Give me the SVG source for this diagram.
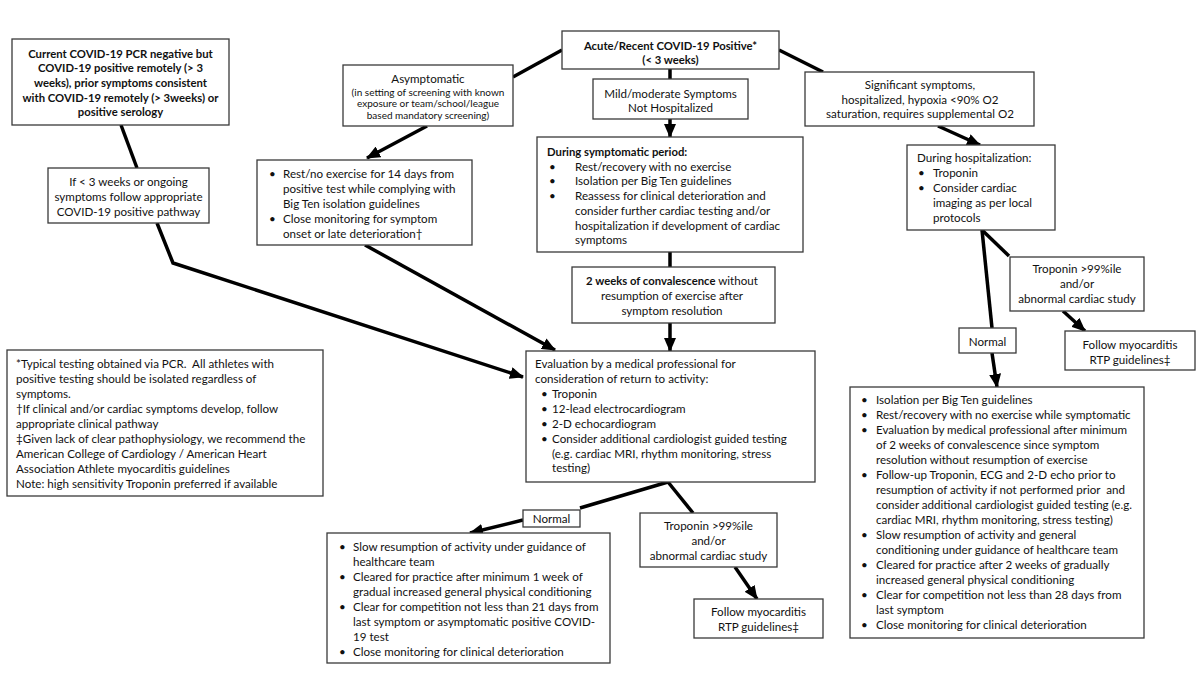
<svg xmlns="http://www.w3.org/2000/svg" width="1200" height="675" viewBox="0 0 1200 675">
<style>
.box{fill:#fff;stroke:#3a3a3a;stroke-width:1.3}
text{font-family:Lato,"Open Sans","Liberation Sans",sans-serif;font-size:11.6px;fill:#111}
.b{font-weight:bold;font-size:11.3px}
.c{text-anchor:middle}
.s{font-size:10px}
.ln{fill:none;stroke:#000;stroke-width:3.5}
.ar{marker-end:url(#ah)}
</style>
<defs>
<marker id="ah" markerUnits="userSpaceOnUse" markerWidth="14" markerHeight="12" viewBox="0 0 14 12" refX="13" refY="6" orient="auto">
<path d="M0,0 L14,6 L0,12 z" fill="#000"/>
</marker>
</defs>
<rect width="1200" height="675" fill="#fff"/>
<g id="connectors">
<line class="ln" x1="121" y1="125" x2="137" y2="168"/>
<polyline class="ln ar" points="157,223 173,263 523,377"/>
<line class="ln" x1="513" y1="77" x2="562" y2="50"/>
<line class="ln ar" x1="427" y1="126" x2="367" y2="158"/>
<line class="ln ar" x1="365" y1="245" x2="555" y2="350"/>
<line class="ln" x1="670" y1="69" x2="670" y2="79"/>
<line class="ln ar" x1="670" y1="119" x2="670" y2="137"/>
<line class="ln" x1="670" y1="252" x2="670" y2="267"/>
<line class="ln ar" x1="670" y1="323" x2="670" y2="351"/>
<line class="ln" x1="779" y1="50" x2="823" y2="72"/>
<line class="ln ar" x1="938" y1="126" x2="980" y2="145"/>
<line class="ln" x1="982" y1="230" x2="1009" y2="256"/>
<line class="ln" x1="982" y1="230" x2="992" y2="328"/>
<line class="ln ar" x1="1063" y1="311" x2="1085" y2="331"/>
<line class="ln ar" x1="992" y1="353" x2="997" y2="387"/>
<line class="ln" x1="668" y1="482" x2="580" y2="508"/>
<line class="ln ar" x1="523" y1="520" x2="470" y2="533"/>
<line class="ln" x1="668" y1="482" x2="693" y2="513"/>
<line class="ln ar" x1="735" y1="567" x2="757" y2="599"/>
</g>
<g id="remote">
<rect class="box" x="12" y="39" width="217" height="86"/>
<text class="b c" x="120.5" y="57.5">Current COVID-19 PCR negative but</text>
<text class="b c" x="120.5" y="72">COVID-19 positive remotely (&gt; 3</text>
<text class="b c" x="120.5" y="87">weeks), prior symptoms consistent</text>
<text class="b c" x="120.5" y="101.5">with COVID-19 remotely (&gt; 3weeks) or</text>
<text class="b c" x="120.5" y="116">positive serology</text>
</g>
<g id="ifless">
<rect class="box" x="48" y="168" width="161" height="55"/>
<text class="c" x="128.5" y="185.5">If &lt; 3 weeks or ongoing</text>
<text class="c" x="128.5" y="200.5">symptoms follow appropriate</text>
<text class="c" x="128.5" y="216">COVID-19 positive pathway</text>
</g>
<g id="acute">
<rect class="box" x="562" y="31" width="217" height="38"/>
<text class="b c" x="670.5" y="49.5">Acute/Recent COVID-19 Positive*</text>
<text class="b c" x="670.5" y="63.5">(&lt; 3 weeks)</text>
</g>
<g id="asymptomatic">
<rect class="box" x="343" y="65" width="170" height="61"/>
<text class="c" x="428" y="82.5">Asymptomatic</text>
<text class="c s" x="428" y="95.5">(in setting of screening with known</text>
<text class="c s" x="428" y="107">exposure or team/school/league</text>
<text class="c s" x="428" y="118.5">based mandatory screening)</text>
</g>
<g id="rest">
<rect class="box" x="257" y="160" width="215" height="85"/>
<text x="269" y="177.5">•</text><text x="283" y="177.5">Rest/no exercise for 14 days from</text>
<text x="283" y="192.5">positive test while complying with</text>
<text x="283" y="207.5">Big Ten isolation guidelines</text>
<text x="269" y="222.5">•</text><text x="283" y="222.5">Close monitoring for symptom</text>
<text x="283" y="237.5">onset or late deterioration†</text>
</g>
<g id="mild">
<rect class="box" x="593" y="79" width="155" height="40"/>
<text class="c" x="670.5" y="97.5">Mild/moderate Symptoms</text>
<text class="c" x="670.5" y="111.5">Not Hospitalized</text>
</g>
<g id="during">
<rect class="box" x="537" y="137" width="266" height="115"/>
<text class="b" x="547" y="155.5">During symptomatic period:</text>
<text x="549" y="170.5">•</text><text x="575" y="170.5">Rest/recovery with no exercise</text>
<text x="549" y="185">•</text><text x="575" y="185">Isolation per Big Ten guidelines</text>
<text x="549" y="199.5">•</text><text x="575" y="199.5">Reassess for clinical deterioration and</text>
<text x="575" y="214.5">consider further cardiac testing and/or</text>
<text x="575" y="229.5">hospitalization if development of cardiac</text>
<text x="575" y="244">symptoms</text>
</g>
<g id="convalescence">
<rect class="box" x="572" y="267" width="203" height="56"/>
<text class="c" x="672" y="284.5"><tspan class="b">2 weeks of convalescence</tspan> without</text>
<text class="c" x="672" y="299.5">resumption of exercise after</text>
<text class="c" x="672" y="314.5">symptom resolution</text>
</g>
<g id="evaluation">
<rect class="box" x="526" y="351" width="289" height="131"/>
<text x="535" y="367.5">Evaluation by a medical professional for</text>
<text x="535" y="382.5">consideration of return to activity:</text>
<text x="541" y="397.5">•</text><text x="552" y="397.5">Troponin</text>
<text x="541" y="412.5">•</text><text x="552" y="412.5">12-lead electrocardiogram</text>
<text x="541" y="427.5">•</text><text x="552" y="427.5">2-D echocardiogram</text>
<text x="541" y="442.5">•</text><text x="552" y="442.5">Consider additional cardiologist guided testing</text>
<text x="552" y="457.5">(e.g. cardiac MRI, rhythm monitoring, stress</text>
<text x="552" y="471.5">testing)</text>
</g>
<g id="footnotes">
<rect class="box" x="7" y="350" width="316" height="146"/>
<text x="16" y="367.5">*Typical testing obtained via PCR.&#160; All athletes with</text>
<text x="16" y="382.5">positive testing should be isolated regardless of</text>
<text x="16" y="397.5">symptoms.</text>
<text x="16" y="412.5">†If clinical and/or cardiac symptoms develop, follow</text>
<text x="16" y="427.5">appropriate clinical pathway</text>
<text x="16" y="442.5">‡Given lack of clear pathophysiology, we recommend the</text>
<text x="16" y="457.5">American College of Cardiology / American Heart</text>
<text x="16" y="472.5">Association Athlete myocarditis guidelines</text>
<text x="16" y="487.5">Note: high sensitivity Troponin preferred if available</text>
</g>
<g id="significant">
<rect class="box" x="805" y="72" width="229" height="54"/>
<text class="c" x="920" y="88.5">Significant symptoms,</text>
<text class="c" x="920" y="103.5">hospitalized, hypoxia &lt;90% O2</text>
<text class="c" x="920" y="117.5">saturation, requires supplemental O2</text>
</g>
<g id="hospitalization">
<rect class="box" x="907" y="145" width="148" height="85"/>
<text x="917" y="161.5">During hospitalization:</text>
<text x="918" y="176.5">•</text><text x="933" y="176.5">Troponin</text>
<text x="918" y="191.5">•</text><text x="933" y="191.5">Consider cardiac</text>
<text x="933" y="206.5">imaging as per local</text>
<text x="933" y="221.5">protocols</text>
</g>
<g id="troponin-right">
<rect class="box" x="1010" y="257" width="134" height="54"/>
<text class="c" x="1077" y="272.5">Troponin &gt;99%ile</text>
<text class="c" x="1077" y="287.5">and/or</text>
<text class="c" x="1077" y="302.5">abnormal cardiac study</text>
</g>
<g id="normal-right">
<rect class="box" x="959" y="328" width="57" height="25"/>
<text class="c" x="987.5" y="345.5">Normal</text>
</g>
<g id="follow-right">
<rect class="box" x="1065" y="331" width="130" height="39"/>
<text class="c" x="1130" y="348.5">Follow myocarditis</text>
<text class="c" x="1130" y="363.5">RTP guidelines‡</text>
</g>
<g id="severe-rtp">
<rect class="box" x="850" y="387" width="294" height="251"/>
<text x="861" y="403.5">•</text><text x="876" y="403.5">Isolation per Big Ten guidelines</text>
<text x="861" y="418.5">•</text><text x="876" y="418.5">Rest/recovery with no exercise while symptomatic</text>
<text x="861" y="433.5">•</text><text x="876" y="433.5">Evaluation by medical professional after minimum</text>
<text x="876" y="448.5">of 2 weeks of convalescence since symptom</text>
<text x="876" y="463.5">resolution without resumption of exercise</text>
<text x="861" y="478.5">•</text><text x="876" y="478.5">Follow-up Troponin, ECG and 2-D echo prior to</text>
<text x="876" y="493.5">resumption of activity if not performed prior&#160; and</text>
<text x="876" y="508.5">consider additional cardiologist guided testing (e.g.</text>
<text x="876" y="523.5">cardiac MRI, rhythm monitoring, stress testing)</text>
<text x="861" y="538.5">•</text><text x="876" y="538.5">Slow resumption of activity and general</text>
<text x="876" y="553.5">conditioning under guidance of healthcare team</text>
<text x="861" y="568.5">•</text><text x="876" y="568.5">Cleared for practice after 2 weeks of gradually</text>
<text x="876" y="583.5">increased general physical conditioning</text>
<text x="861" y="598.5">•</text><text x="876" y="598.5">Clear for competition not less than 28 days from</text>
<text x="876" y="613.5">last symptom</text>
<text x="861" y="628.5">•</text><text x="876" y="628.5">Close monitoring for clinical deterioration</text>
</g>
<g id="normal-bottom">
<rect class="box" x="523" y="510" width="57" height="17"/>
<text class="c" x="551.5" y="522.5">Normal</text>
</g>
<g id="mild-rtp">
<rect class="box" x="327" y="533" width="283" height="130"/>
<text x="339" y="550.5">•</text><text x="353" y="550.5">Slow resumption of activity under guidance of</text>
<text x="353" y="565.5">healthcare team</text>
<text x="339" y="580.5">•</text><text x="353" y="580.5">Cleared for practice after minimum 1 week of</text>
<text x="353" y="595.5">gradual increased general physical conditioning</text>
<text x="339" y="610.5">•</text><text x="353" y="610.5">Clear for competition not less than 21 days from</text>
<text x="353" y="625.5">last symptom or asymptomatic positive COVID-</text>
<text x="353" y="640.5">19 test</text>
<text x="339" y="655.5">•</text><text x="353" y="655.5">Close monitoring for clinical deterioration</text>
</g>
<g id="troponin-bottom">
<rect class="box" x="640" y="513" width="137" height="54"/>
<text class="c" x="708.5" y="529.5">Troponin &gt;99%ile</text>
<text class="c" x="708.5" y="544.5">and/or</text>
<text class="c" x="708.5" y="559.5">abnormal cardiac study</text>
</g>
<g id="follow-bottom">
<rect class="box" x="694" y="599" width="129" height="39"/>
<text class="c" x="758.5" y="615.5">Follow myocarditis</text>
<text class="c" x="758.5" y="630.5">RTP guidelines‡</text>
</g>
</svg>
